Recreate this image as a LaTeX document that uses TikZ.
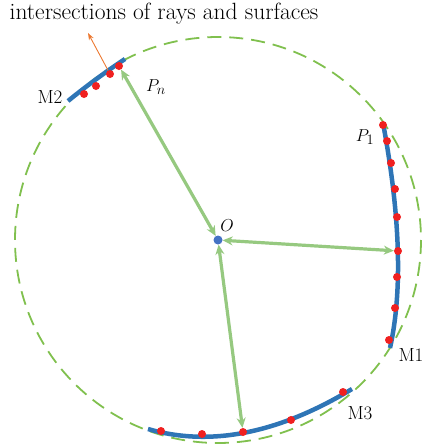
\documentclass[tikz,border=0pt]{standalone}
\usepackage{tikz}
\usetikzlibrary{arrows.meta}
\definecolor{raygreen}{RGB}{150,201,128}
\definecolor{circgreen}{RGB}{128,192,78}
\definecolor{surfblue}{RGB}{46,117,182}
\definecolor{dotred}{RGB}{240,32,32}
\definecolor{nrmorange}{RGB}{236,120,48}
\definecolor{origblue}{RGB}{68,114,196}

\begin{document}
\begin{tikzpicture}[x=1pt,y=-1pt,
  rdot/.style={circle,fill=dotred,inner sep=0pt,minimum size=8pt},
  surf/.style={surfblue,line width=4.5pt},
  ray/.style={raygreen,line width=3.2pt,{Stealth[length=10pt,width=9pt]}-{Stealth[length=10pt,width=9pt]}},
  lbl/.style={font=\fontsize{19}{22}\selectfont}]
\useasboundingbox (0,0) rectangle (425,447);
\node[font=\fontsize{23.5}{27}\selectfont] (title) at (164,14) {intersections of rays and surfaces};
% the dashed circle
\draw[circgreen,line width=1.8pt,dash pattern=on 14pt off 8pt] (218,240) circle (203);
% the three surfaces
\draw[surf] (383,123) .. controls (400.3,215.7) and (402.7,290.7) .. (390,348);
\draw[surf] (148,429) .. controls (210,447) and (278,433.7) .. (352,389);
\draw[surf] (68,101) .. controls (86,86.3) and (105,72.3) .. (125,59);
\foreach \p [count=\i] in {(383,125),(387,141),(391,163),(395,189),(397,217),(398,251),(397,277),(395,308),(389,340)}
  \node[rdot] (m1-\i) at \p {};
\foreach \p [count=\i] in {(161,431),(202,434),(243,432),(291,420),(343,392)}
  \node[rdot] (m3-\i) at \p {};
\foreach \p [count=\i] in {(84,94),(96,86),(110,74),(119,66)}
  \node[rdot] (m2-\i) at \p {};
\node[circle,fill=origblue,inner sep=0pt,minimum size=9pt] (O) at (218,240) {};
\coordinate (nrm) at (88,33);
% rays from the origin
\draw[ray] (O) -- (m2-4);
\draw[ray] (O) -- (m1-6);
\draw[ray] (O) -- (m3-3);
\draw[nrmorange,line width=0.9pt,-{Stealth[length=7pt,width=5pt]}] (m2-3) -- (nrm);
\node[lbl] at (227,226) {$O$};
\node[lbl] at (156,87) {$P_n$};
\node[lbl] at (365,137) {$P_1$};
\node[lbl] at (50,97) {M2};
\node[lbl] at (411,355) {M1};
\node[lbl] at (360,413) {M3};
\end{tikzpicture}
\end{document}
